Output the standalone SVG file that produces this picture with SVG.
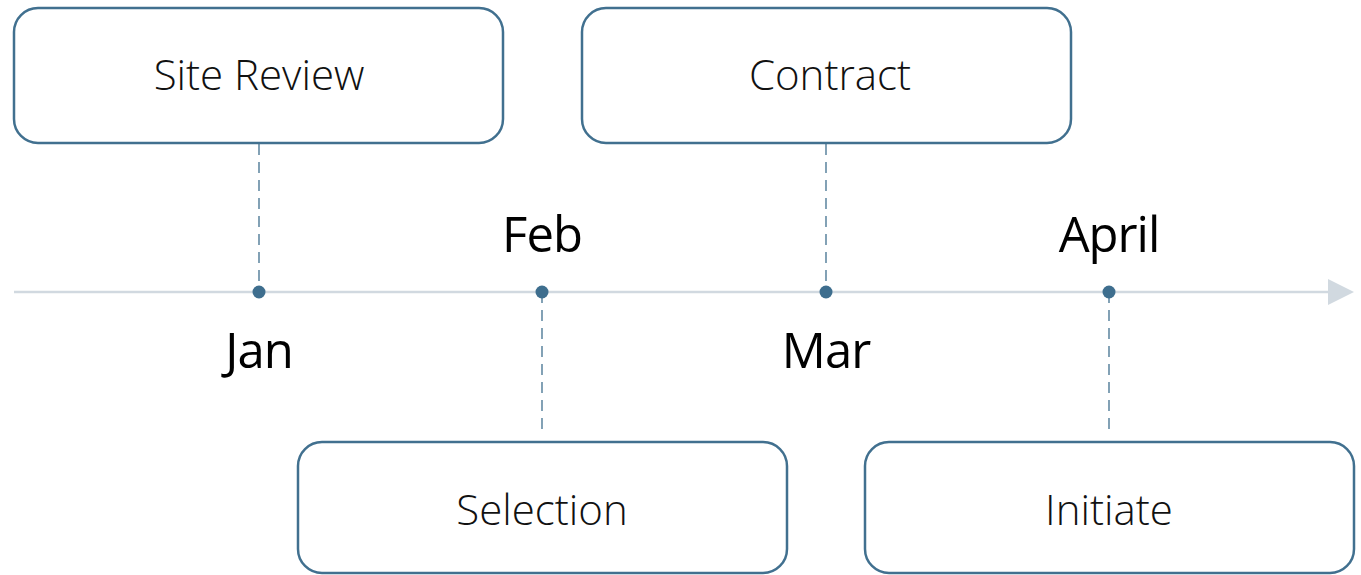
<svg xmlns="http://www.w3.org/2000/svg" width="1361" height="575" viewBox="0 0 1361 575">
<style>
.box{fill:#fff;stroke:#41708f;stroke-width:2.5}
.bt{font-family:"Open Sans","Noto Sans",sans-serif;font-weight:300;font-size:42px;fill:#111;text-anchor:middle}
.mt{font-family:"Open Sans","Noto Sans",sans-serif;font-weight:400;font-size:49px;fill:#000;text-anchor:middle;letter-spacing:-1px}
.dash{stroke:#41708f;stroke-width:1.3;stroke-dasharray:11 7;fill:none}
.dot{fill:#3e6e8e}
</style>
<defs>
<marker id="arr" viewBox="0 0 10 10" refX="0" refY="5" markerWidth="26" markerHeight="26" markerUnits="userSpaceOnUse" orient="auto">
<path d="M0,0 L10,5 L0,10 Z" fill="#d1d9e0"/>
</marker>
</defs>
<g id="connectors">
<line x1="14" y1="292" x2="1328" y2="292" stroke="#d1d9e0" stroke-width="2.5" marker-end="url(#arr)"/>
<line class="dash" x1="259" y1="144" x2="259" y2="292"/>
<line class="dash" x1="542" y1="292" x2="542" y2="435"/>
<line class="dash" x1="826" y1="144" x2="826" y2="292"/>
<line class="dash" x1="1109" y1="292" x2="1109" y2="435"/>
</g>
<g id="node-jan">
<circle class="dot" cx="259" cy="292" r="6.5"/>
<text class="mt" x="259" y="368">Jan</text>
</g>
<g id="node-feb">
<circle class="dot" cx="542" cy="292" r="6.5"/>
<text class="mt" x="542" y="252">Feb</text>
</g>
<g id="node-mar">
<circle class="dot" cx="826" cy="292" r="6.5"/>
<text class="mt" x="826" y="368">Mar</text>
</g>
<g id="node-april">
<circle class="dot" cx="1109" cy="292" r="6.5"/>
<text class="mt" x="1109" y="252">April</text>
</g>
<g id="box-site-review">
<rect class="box" x="14" y="8" width="489" height="135" rx="24"/>
<text class="bt" x="259" y="90">Site Review</text>
</g>
<g id="box-contract">
<rect class="box" x="582" y="8" width="489" height="135" rx="24"/>
<text class="bt" x="830" y="90">Contract</text>
</g>
<g id="box-selection">
<rect class="box" x="298" y="442" width="489" height="131" rx="24"/>
<text class="bt" x="542" y="525">Selection</text>
</g>
<g id="box-initiate">
<rect class="box" x="865" y="442" width="489" height="131" rx="24"/>
<text class="bt" x="1109" y="525">Initiate</text>
</g>
</svg>
